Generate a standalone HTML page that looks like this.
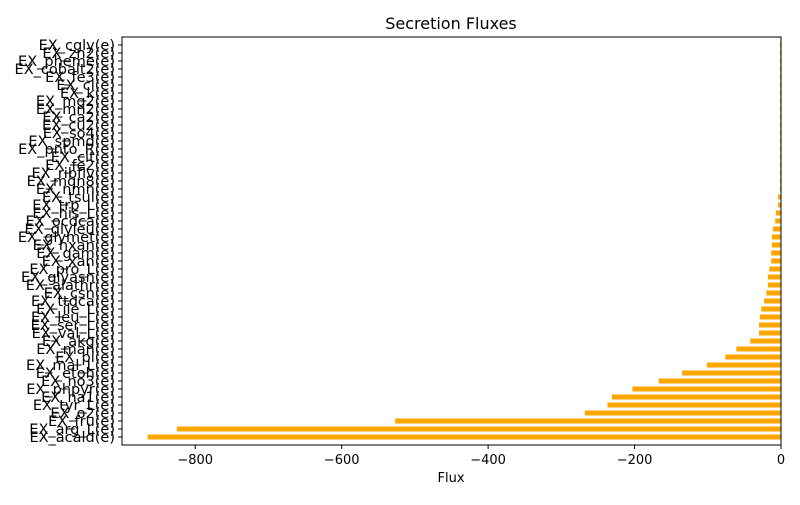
<!DOCTYPE html>
<html><head><meta charset="utf-8"><style>
body{margin:0;background:#fff;}
svg text{font-family:"DejaVu Sans","Liberation Sans",sans-serif;}
</style></head><body>
<svg id="chart" width="800" height="500" xmlns="http://www.w3.org/2000/svg">
<rect width="800" height="500" fill="#fff"/>
<text x="451" y="29" font-size="16" text-anchor="middle">Secretion Fluxes</text>
<text x="451" y="482" font-size="13" text-anchor="middle">Flux</text>
<g id="bars"></g><g id="yticks"></g><g id="xticks"></g>
<rect x="122" y="37" width="659" height="408" fill="none" stroke="#000" stroke-width="1"/>
</svg>
<script>
const categories=["EX_cgly(e)","EX_zn2(e)","EX_pheme(e)","EX_cobalt2(e)","EX_fe3(e)","EX_cl(e)","EX_k(e)","EX_mg2(e)","EX_mn2(e)","EX_ca2(e)","EX_cu2(e)","EX_so4(e)","EX_spmd(e)","EX_pnto_R(e)","EX_cit(e)","EX_fe2(e)","EX_ribflv(e)","EX_mqn8(e)","EX_nmn(e)","EX_tsul(e)","EX_trp_L(e)","EX_his_L(e)","EX_ocdca(e)","EX_glyleu(e)","EX_glymet(e)","EX_hxan(e)","EX_gam(e)","EX_xan(e)","EX_pro_L(e)","EX_glyasn(e)","EX_alathr(e)","EX_csn(e)","EX_ttdca(e)","EX_ile_L(e)","EX_leu_L(e)","EX_ser_L(e)","EX_val_L(e)","EX_akg(e)","EX_man(e)","EX_pi(e)","EX_mal_L(e)","EX_etoh(e)","EX_no3(e)","EX_phpyr(e)","EX_na1(e)","EX_tyr_L(e)","EX_o2(e)","EX_fru(e)","EX_arg_L(e)","EX_acald(e)"];
const fluxValues=[-1.5,-1.5,-1.5,-1.5,-1.5,-1.5,-1.5,-1.5,-1.5,-1.5,-1.5,-1.5,-1.5,-1.5,-1.5,-1.5,-1.5,-1.5,-1.5,-4,-4,-7,-8,-11,-12.5,-12.5,-13.5,-13.5,-16,-18,-18,-20,-23,-27,-29,-30,-30,-42,-61,-76,-101,-135,-167,-203,-231,-237,-268,-527,-825,-865];
const xTicks=[-800,-600,-400,-200,0];
const NS="http://www.w3.org/2000/svg";
const X0=122,X1=781,XMIN=-900,XMAX=0;
function xs(v){return X0+(v-XMIN)/(XMAX-XMIN)*(X1-X0);}
function ys(i){return 45+i*8;}
const bars=document.getElementById('bars'),yt=document.getElementById('yticks'),xt=document.getElementById('xticks');
function mk(t,a){const e=document.createElementNS(NS,t);for(const k in a)e.setAttribute(k,a[k]);return e;}
categories.forEach((c,i)=>{
 const v=fluxValues[i],y=ys(i);
 const r=mk('rect',{x:xs(v),y:y-2.5,width:xs(0)-xs(v),height:5,fill:'#ffa500'});
 
 
 bars.appendChild(r);
 const l=mk('line',{x1:122,x2:118,y1:y,y2:y,stroke:'#000'});
 
 
 yt.appendChild(l);
 const t=mk('text',{x:115,y:y+5,'font-size':14.5,'text-anchor':'end'});
 t.textContent=c;
 
 
 yt.appendChild(t);
});
xTicks.forEach(v=>{
 const x=xs(v);
 const l=mk('line',{x1:x,x2:x,y1:445,y2:449,stroke:'#000'});
 
 
 xt.appendChild(l);
 const t=mk('text',{x:x,y:464,'font-size':13,'text-anchor':'middle'});
 t.textContent=v===0?'0':'\u2212'+Math.abs(v);
 
 
 xt.appendChild(t);
});
</script>
</body></html>
